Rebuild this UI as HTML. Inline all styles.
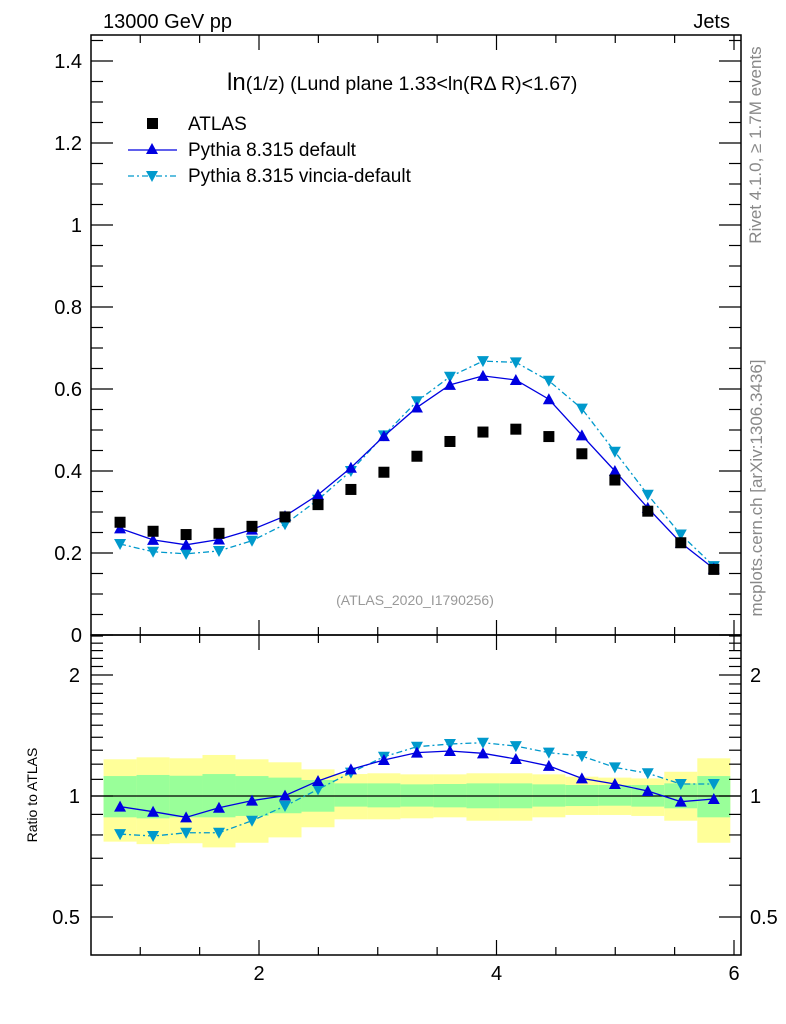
<!DOCTYPE html>
<html><head><meta charset="utf-8"><style>
html,body{margin:0;padding:0;background:#fff;}
svg{display:block;font-family:"Liberation Sans",sans-serif;}
</style></head><body>
<svg id="chart" width="786" height="1024" xmlns="http://www.w3.org/2000/svg">
<g id="bands"></g>
<g id="marks"></g>
<g id="axes"></g>
<text x="103" y="28" font-size="20">13000 GeV pp</text>
<text x="730" y="28" font-size="20" text-anchor="end">Jets</text>
<text x="227" y="90" font-size="19.5"><tspan font-size="24">ln</tspan>(1/z) (Lund plane 1.33&lt;ln(RΔ R)&lt;1.67)</text>
<text x="415" y="605" font-size="14" fill="#999" text-anchor="middle">(ATLAS_2020_I1790256)</text>
<text transform="translate(761,145) rotate(-90)" font-size="17" fill="#888" text-anchor="middle">Rivet 4.1.0, ≥ 1.7M events</text>
<text transform="translate(762,488) rotate(-90)" font-size="17" fill="#888" text-anchor="middle">mcplots.cern.ch [arXiv:1306.3436]</text>
<text transform="translate(37,795) rotate(-90)" font-size="14" text-anchor="middle">Ratio to ATLAS</text>
<g>
<rect x="147" y="118" width="11" height="11" fill="#000"/>
<text x="188" y="130" font-size="19">ATLAS</text>
<line x1="128" y1="150" x2="177" y2="150" stroke="#0000e0" stroke-width="1.3"/>
<polygon points="152,143 158,154 146,154" fill="#0000e0"/>
<text x="188" y="156" font-size="19">Pythia 8.315 default</text>
<line x1="128" y1="176" x2="177" y2="176" stroke="#0099cc" stroke-width="1.3" stroke-dasharray="6,3,2,3"/>
<polygon points="146,171 158,171 152,182" fill="#0099cc"/>
<text x="188" y="182" font-size="19">Pythia 8.315 vincia-default</text>
</g>
</svg>
<script>
const xCenters=[0.83,1.108,1.386,1.663,1.941,2.219,2.497,2.774,3.052,3.33,3.608,3.886,4.163,4.441,4.719,4.997,5.274,5.552,5.83];
const atlas=[0.275,0.253,0.245,0.248,0.265,0.288,0.318,0.355,0.397,0.436,0.472,0.495,0.502,0.484,0.442,0.378,0.302,0.225,0.16];
const pyDefault=[0.26,0.232,0.22,0.233,0.257,0.29,0.342,0.408,0.485,0.555,0.61,0.632,0.622,0.575,0.487,0.4,0.31,0.225,0.162];
const pyVincia=[0.222,0.203,0.198,0.205,0.23,0.27,0.33,0.4,0.487,0.57,0.63,0.668,0.665,0.62,0.552,0.447,0.342,0.245,0.168];
const ratioDefault=[0.941,0.914,0.885,0.935,0.974,1.002,1.09,1.165,1.229,1.282,1.294,1.277,1.236,1.188,1.106,1.071,1.029,0.968,0.983];
const ratioVincia=[0.804,0.795,0.81,0.81,0.868,0.944,1.039,1.143,1.252,1.326,1.347,1.357,1.331,1.282,1.257,1.178,1.139,1.071,1.071];
const yellowUp=[1.234,1.248,1.241,1.265,1.234,1.213,1.165,1.134,1.139,1.132,1.132,1.139,1.139,1.132,1.117,1.111,1.106,1.149,1.241];
const greenUp=[1.121,1.128,1.123,1.134,1.121,1.111,1.096,1.075,1.075,1.069,1.071,1.075,1.075,1.069,1.065,1.065,1.065,1.075,1.121];
const greenDn=[0.885,0.88,0.885,0.885,0.892,0.906,0.914,0.941,0.937,0.941,0.937,0.932,0.932,0.941,0.944,0.946,0.941,0.932,0.885];
const yellowDn=[0.77,0.759,0.763,0.745,0.765,0.789,0.836,0.875,0.875,0.88,0.885,0.868,0.868,0.885,0.897,0.897,0.892,0.868,0.765];
const mainTicks=["0","0.2","0.4","0.6","0.8","1","1.2","1.4"];
const xTicks=["2","4","6"];
const ratioTicks=["0.5","1","2"];

const NS="http://www.w3.org/2000/svg";
const L=91,R=741,T=35,MB=635,RB=955;
const sx=v=>21.5+v*118.75;
const sy=v=>635-v*410;
const sr=v=>796-121*Math.log2(v);
const halfW=0.139;
function mk(tag,attrs,parent){const e=document.createElementNS(NS,tag);for(const k in attrs)e.setAttribute(k,attrs[k]);parent.appendChild(e);return e;}
const bands=document.getElementById('bands'),marks=document.getElementById('marks'),axes=document.getElementById('axes');

xCenters.forEach((x,i)=>{
  const x0=sx(x-halfW),x1=sx(x+halfW);
  const y=mk('rect',{x:x0,y:sr(yellowUp[i]),width:x1-x0,height:sr(yellowDn[i])-sr(yellowUp[i]),fill:'#ffff99'},bands);
  
  
  const g=mk('rect',{x:x0,y:sr(greenUp[i]),width:x1-x0,height:sr(greenDn[i])-sr(greenUp[i]),fill:'#99ff99'},bands);
  
  
});
mk('line',{x1:L,x2:R,y1:sr(1),y2:sr(1),stroke:'#000','stroke-width':1.3},bands);

function series(vals,fy,color,dash,down,name){
  const pts=xCenters.map((x,i)=>sx(x)+','+fy(vals[i])).join(' ');
  const pl=mk('polyline',{points:pts,fill:'none',stroke:color,'stroke-width':1.3},marks);
  if(dash)pl.setAttribute('stroke-dasharray',dash);
  
  
  xCenters.forEach((x,i)=>{
    const cx=sx(x),cy=fy(vals[i]);
    const p=down?`${cx-6},${cy-5} ${cx+6},${cy-5} ${cx},${cy+6}`:`${cx},${cy-6} ${cx+6},${cy+5} ${cx-6},${cy+5}`;
    const m=mk('polygon',{points:p,fill:color},marks);
    
    
  });
}
series(pyVincia,sy,'#0099cc','6,3,2,3',true,'vincia');
series(pyDefault,sy,'#0000e0',null,false,'default');
series(ratioVincia,sr,'#0099cc','6,3,2,3',true,'vincia-ratio');
series(ratioDefault,sr,'#0000e0',null,false,'default-ratio');
xCenters.forEach((x,i)=>{
  const r=mk('rect',{x:sx(x)-5.5,y:sy(atlas[i])-5.5,width:11,height:11,fill:'#000'},marks);
  
  
});

mk('rect',{x:L,y:T,width:R-L,height:MB-T,fill:'none',stroke:'#000','stroke-width':1.5},axes);
mk('rect',{x:L,y:MB,width:R-L,height:RB-MB,fill:'none',stroke:'#000','stroke-width':1.5},axes);
function tick(x1,y1,x2,y2){mk('line',{x1,y1,x2,y2,stroke:'#000','stroke-width':1.2},axes);}
for(let k=0;k<=29;k++){const v=k*0.05,y=sy(v);if(y<T)break;const maj=k%4==0;const len=maj?22:12;tick(L,y,L+len,y);tick(R,y,R-len,y);}
mainTicks.forEach(t=>{const e=mk('text',{x:82,y:sy(+t)+7,'font-size':20,'text-anchor':'end'},axes);e.textContent=t;
 
 });
for(let v=1;v<=6;v+=0.5){const x=sx(v);if(x<L||x>R)continue;const maj=Number.isInteger(v)&&v%2==0;const len=maj?15:8;
 [T,MB].forEach(y=>tick(x,y,x,y+len));[MB,RB].forEach(y=>tick(x,y,x,y-len));}
xTicks.forEach(t=>{const e=mk('text',{x:sx(+t),y:980,'font-size':20,'text-anchor':'middle'},axes);e.textContent=t;
 
 });
for(let k=4;k<=25;k++){const v=k/10,y=sr(v);if(y<MB||y>RB)continue;const maj=(k==5||k==10||k==20);const len=maj?22:12;tick(L,y,L+len,y);tick(R,y,R-len,y);}
ratioTicks.forEach(t=>{
 const e=mk('text',{x:80,y:sr(+t)+7,'font-size':20,'text-anchor':'end'},axes);e.textContent=t;
 
 
 const e2=mk('text',{x:750,y:sr(+t)+7,'font-size':20},axes);e2.textContent=t;
 
 
});
</script>
</body></html>
